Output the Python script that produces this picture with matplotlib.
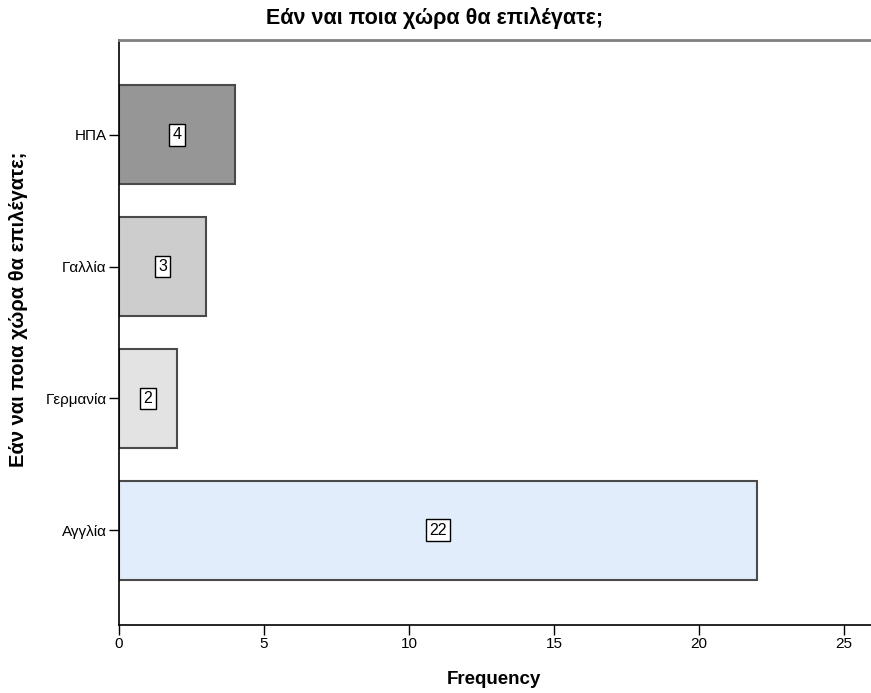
import matplotlib
matplotlib.use("Agg")
import matplotlib.pyplot as plt

categories = ["Αγγλία", "Γερμανία", "Γαλλία", "ΗΠΑ"]
counts = [22, 2, 3, 4]
bar_colors = ["#e1edfa", "#e3e3e3", "#cdcdcd", "#969696"]
xticks = [0, 5, 10, 15, 20, 25]

plt.rcParams['font.family'] = ['Liberation Sans', 'DejaVu Sans']

fig = plt.figure(figsize=(8.71, 6.93), dpi=100)
ax = fig.add_axes([119/871, 1-625/693, (871-119)/871, (625-40)/693])

pos = list(range(len(categories)))
ax.barh(pos, counts, height=0.75, color=bar_colors, edgecolor="#4a4a4a", linewidth=1.5)

for p, c in zip(pos, counts):
    ax.text(c/2, p, str(c), ha="center", va="center", fontsize=11.5,
            bbox=dict(boxstyle="square,pad=0.2", fc="white", ec="black", lw=1))

ax.set_xlim(0, 25.93)
ax.set_ylim(-0.72, 3.72)
ax.set_yticks(pos)
ax.set_yticklabels(categories, fontsize=11)
ax.set_xticks(xticks)
ax.set_xticklabels([str(t) for t in xticks], fontsize=11)
ax.tick_params(axis="both", length=7.5, width=1, color="black", pad=1.5)
ax.spines["right"].set_visible(False)
ax.spines["top"].set_color("#808080")
ax.spines["top"].set_linewidth(2)
ax.spines["left"].set_linewidth(1.2)
ax.spines["bottom"].set_linewidth(1.2)

fig.text(435/871, 1-18/693, "Εάν ναι ποια χώρα θα επιλέγατε;", ha="center", va="center",
         fontsize=15.5, fontweight="bold")
fig.text(494/871, 1-680/693, "Frequency", ha="center", va="center",
         fontsize=13.5, fontweight="bold")
fig.text(19/871, 1-309/693, "Εάν ναι ποια χώρα θα επιλέγατε;", ha="center", va="center",
         rotation=90, fontsize=14.5, fontweight="bold")

fig.savefig("out.png", dpi=100)
